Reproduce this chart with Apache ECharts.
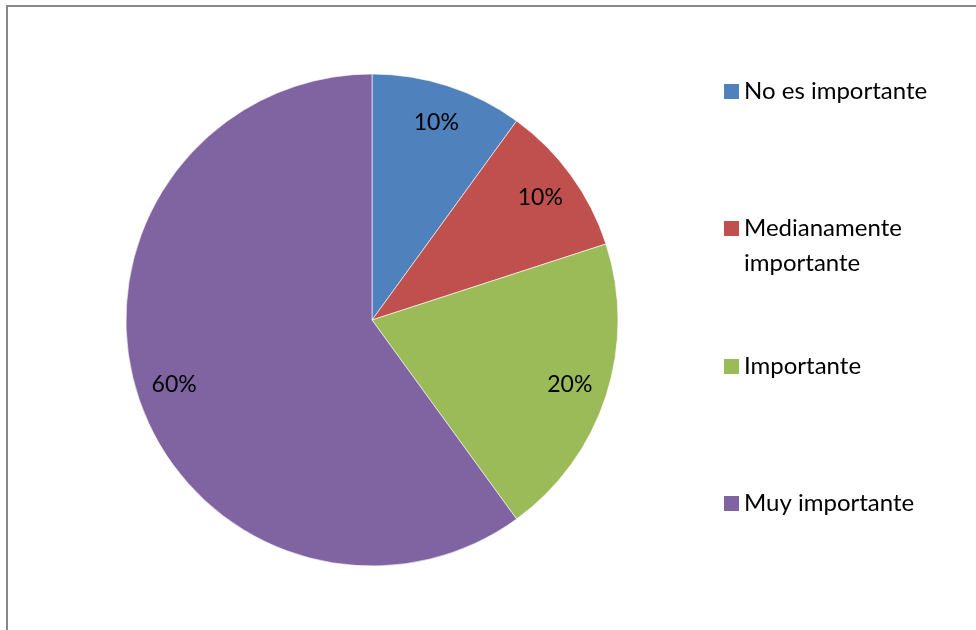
<!DOCTYPE html>
<html>
<head>
<meta charset="utf-8">
<script src="https://cdn.jsdelivr.net/npm/echarts@6/dist/echarts.min.js"></script>
<style>
  html, body { margin: 0; padding: 0; background: #fff; }
  #chart { width: 976px; height: 630px; }
</style>
</head>
<body>
<div id="chart"></div>
<script>
// Importancia percibida: porcentaje de respuestas por categoría
const categories = ['No es importante', 'Medianamente importante', 'Importante', 'Muy importante'];
const legendLabels = ['No es importante', 'Medianamente\nimportante', 'Importante', 'Muy importante'];
const values = [10, 10, 20, 60];
const colors = ['#4F81BD', '#C0504D', '#9BBB59', '#8064A2'];

const FONT = 'Lato, "Open Sans", "DejaVu Sans", sans-serif';
const LINE_H = 35;

const pieData = categories.map((name, i) => ({
  name: name,
  value: values[i],
  itemStyle: { color: colors[i] }
}));

// one legend block per category so each entry sits at its own row;
// the two-line entry uses a tall icon box with the square at its top
const legendTops = [74, 211, 349, 486];
const legends = categories.map((name, i) => {
  const multi = legendLabels[i].includes('\n');
  return {
    orient: 'vertical',
    left: 724,
    top: legendTops[i],
    padding: 0,
    itemWidth: 15,
    itemHeight: multi ? 50 : 15,
    icon: multi ? 'path://M0,0h15v15h-15z M0,50h0.01v0.01h-0.01z' : 'rect',
    itemStyle: { borderWidth: 0, color: colors[i] },
    selectedMode: false,
    data: [name],
    formatter: () => legendLabels[i],
    textStyle: {
      fontFamily: FONT,
      fontSize: 24,
      color: '#000',
      lineHeight: LINE_H
    }
  };
});

const chart = echarts.init(document.getElementById('chart'), null, { renderer: 'canvas' });
chart.setOption({
  backgroundColor: '#fff',
  animation: false,
  graphic: [{
    type: 'rect',
    shape: { x: 7, y: 6, width: 1000, height: 700 },
    style: { fill: 'none', stroke: '#878787', lineWidth: 2 },
    silent: true,
    z: 100
  }],
  legend: legends,
  series: [
    {
      type: 'pie',
      center: [372, 320],
      radius: [0, 246],
      startAngle: 90,
      clockwise: true,
      label: { show: false },
      labelLine: { show: false },
      itemStyle: { borderColor: '#fff', borderWidth: 0.6 },
      emphasis: { disabled: true },
      data: pieData
    },
    {
      // label ring: places the percentage text near the outer rim
      type: 'pie',
      center: [372, 320],
      radius: [164, 246],
      startAngle: 90,
      clockwise: true,
      silent: true,
      emphasis: { disabled: true },
      itemStyle: { color: 'rgba(0,0,0,0)' },
      label: {
        show: true,
        position: 'inside',
        formatter: p => p.value + '%',
        fontFamily: FONT,
        fontSize: 23,
        color: '#000'
      },
      labelLine: { show: false },
      data: categories.map((name, i) => ({ name: name, value: values[i] }))
    }
  ]
});
</script>
</body>
</html>
